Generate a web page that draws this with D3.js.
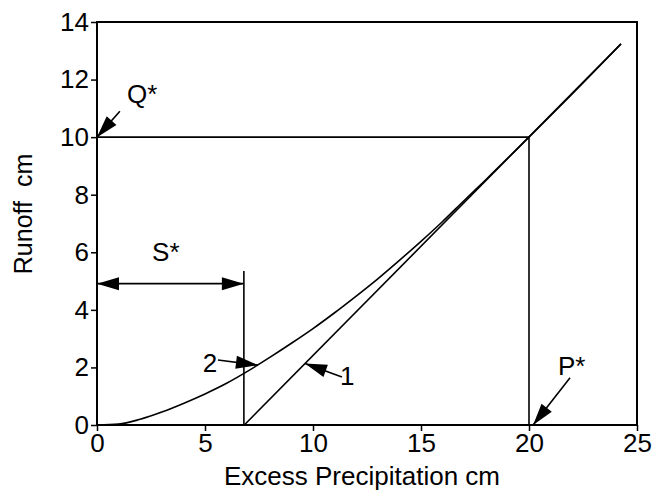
<!DOCTYPE html>
<html>
<head>
<meta charset="utf-8">
<script src="https://cdn.jsdelivr.net/npm/d3@7"></script>
<style>
  body { margin: 0; background: #fff; }
  svg text { font-family: "Liberation Sans", Arial, sans-serif; fill: #000; }
</style>
</head>
<body>
<svg id="chart" width="654" height="492"></svg>
<script>
// values
var xTicks = [0, 5, 10, 15, 20, 25];
var yTicks = [0, 2, 4, 6, 8, 10, 12, 14];

// curve 1: straight line starting at S*
var line1P = [6.82, 24.26];
var line1Q = [0, 13.24];

// curve 2: smooth curve from the origin, merging into line 1
var curve2P = [0, 1, 2, 3, 4, 5, 6, 7, 8, 9, 10, 11, 12, 13, 14, 15, 16, 17, 18, 20, 22, 24.26];
var curve2Q = [0, 0.03, 0.2, 0.45, 0.75, 1.08, 1.45, 1.88, 2.35, 2.84, 3.35, 3.9, 4.48, 5.08, 5.72, 6.38, 7.07, 7.8, 8.52, 10.0, 11.5, 13.24];

// guide lines (P*, Q*, S*)
var pStar = 20, qStar = 10, sStar = 6.8, sTop = 5.35, sArrowY = 4.91;

// labels: [text, x, y] and arrows: [fromX, fromY, toX, toY]
var labels = [["Q*", 1.39, 11.18], ["S*", 2.55, 5.68], ["2", 4.9, 1.85], ["1", 11.25, 1.39], ["P*", 21.34, 1.74]];
var arrows = [[1.06, 10.9, 0, 10], [5.6, 2.26, 7.45, 2.08], [11.34, 1.67, 9.63, 2.14], [21.9, 1.64, 20.19, 0]];

var svg = d3.select("#chart");
var mLeft = 97, mRight = 637, mTop = 22, mBottom = 425;

var x = d3.scaleLinear().domain([0, 25]).range([mLeft, mRight]);
var y = d3.scaleLinear().domain([0, 14]).range([mBottom, mTop]);

var g = svg.append("g");

// frame
g.append("rect")
    .attr("x", mLeft).attr("y", mTop)
    .attr("width", mRight - mLeft).attr("height", mBottom - mTop)
    .attr("fill", "none").attr("stroke", "#000").attr("stroke-width", 2);

// axes
var xAxis = g.append("g")
    .attr("transform", "translate(0," + mBottom + ")")
    .call(d3.axisBottom(x).tickValues(xTicks).tickSize(6).tickPadding(3).tickFormat(d3.format("d")));
var yAxis = g.append("g")
    .attr("transform", "translate(" + mLeft + ",0)")
    .call(d3.axisLeft(y).tickValues(yTicks).tickSize(6).tickPadding(2).tickFormat(d3.format("d")));

[xAxis, yAxis].forEach(function(a) {
    a.select(".domain").remove();
    a.selectAll("line").attr("stroke", "#000").attr("stroke-width", 1.5);
    a.selectAll("text").style("font-size", "26px").attr("fill", "#000");
});

// axis titles
svg.append("text")
    .attr("x", 362).attr("y", 485)
    .attr("text-anchor", "middle")
    .style("font-size", "26px")
    .text("Excess Precipitation cm");

svg.append("text")
    .attr("transform", "translate(32,214) rotate(-90)")
    .attr("text-anchor", "middle")
    .style("font-size", "25px")
    .style("white-space", "pre")
    .text("Runoff  cm");

// guide lines
var guides = [
    [0, qStar, pStar, qStar],
    [pStar, 0, pStar, qStar],
    [sStar, 0, sStar, sTop]
];
g.selectAll("line.guide")
    .data(guides)
    .enter().append("line")
    .attr("class", "guide")
    .attr("x1", function(d) { return x(d[0]); })
    .attr("y1", function(d) { return y(d[1]); })
    .attr("x2", function(d) { return x(d[2]); })
    .attr("y2", function(d) { return y(d[3]); })
    .attr("stroke", "#000").attr("stroke-width", 1.6);

// curves
var lineGen = d3.line()
    .x(function(d) { return x(d[0]); })
    .y(function(d) { return y(d[1]); });

g.append("path")
    .datum(line1P.map(function(p, i) { return [p, line1Q[i]]; }))
    .attr("d", lineGen)
    .attr("fill", "none").attr("stroke", "#000").attr("stroke-width", 1.6);

g.append("path")
    .datum(curve2P.map(function(p, i) { return [p, curve2Q[i]]; }))
    .attr("d", lineGen.curve(d3.curveMonotoneX))
    .attr("fill", "none").attr("stroke", "#000").attr("stroke-width", 1.6);

// arrowheads
function arrowHead(sel, x1, y1, x2, y2) {
    var dx = x2 - x1, dy = y2 - y1;
    var len = Math.sqrt(dx * dx + dy * dy);
    var ux = dx / len, uy = dy / len;
    var hl = 22, hw = 6.5;
    var bx = x2 - ux * hl, by = y2 - uy * hl;
    sel.append("path")
        .attr("d", "M" + x2 + "," + y2 +
            "L" + (bx - uy * hw) + "," + (by + ux * hw) +
            "L" + (bx + uy * hw) + "," + (by - ux * hw) + "Z")
        .attr("fill", "#000");
}

arrows.forEach(function(a) {
    var x1 = x(a[0]), y1 = y(a[1]), x2 = x(a[2]), y2 = y(a[3]);
    g.append("line")
        .attr("x1", x1).attr("y1", y1).attr("x2", x2).attr("y2", y2)
        .attr("stroke", "#000").attr("stroke-width", 1.6);
    arrowHead(g, x1, y1, x2, y2);
});

// S* double arrow
g.append("line")
    .attr("x1", x(0)).attr("y1", y(sArrowY))
    .attr("x2", x(sStar)).attr("y2", y(sArrowY))
    .attr("stroke", "#000").attr("stroke-width", 1.6);
arrowHead(g, x(sStar), y(sArrowY), x(0), y(sArrowY));
arrowHead(g, x(0), y(sArrowY), x(sStar), y(sArrowY));

// labels
g.selectAll("text.note")
    .data(labels)
    .enter().append("text")
    .attr("class", "note")
    .attr("x", function(d) { return x(d[1]); })
    .attr("y", function(d) { return y(d[2]); })
    .style("font-size", "26px")
    .text(function(d) { return d[0]; });
</script>
</body>
</html>
